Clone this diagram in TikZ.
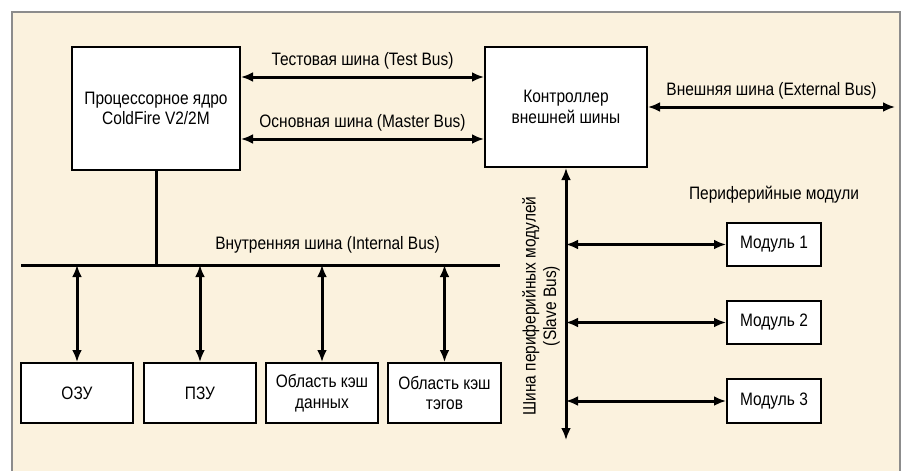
\documentclass[tikz,border=0pt]{standalone}
\usepackage{fontspec}
\setmainfont{Liberation Sans}[FakeStretch=0.86]
\usetikzlibrary{arrows.meta, positioning}

\definecolor{panelbg}{RGB}{251,242,222}
\definecolor{panelframe}{RGB}{140,140,140}

\begin{document}
\begin{tikzpicture}[
        x=0.5pt, y=-0.5pt,
        block/.style={rectangle, draw=black, line width=1pt, fill=white, align=center, font=\fontsize{9}{10.2}\selectfont},
        bus/.style={line width=1.5pt, draw=black},
        busarrow/.style={line width=1.5pt, draw=black, {Latex[length=6pt,width=5pt]}-{Latex[length=6pt,width=5pt]}},
        buslabel/.style={font=\fontsize{9}{10.2}\selectfont, text=black, align=center}
    ]
        % Panel
        \useasboundingbox (0,0) rectangle (905,471);
        \fill[panelbg] (12,12) rectangle (900,471);
        \draw[panelframe, line width=1.2pt] (12,471) -- (12,12) -- (900,12) -- (900,471);

        % Core and bus controller
        \node[block, minimum width=84pt, minimum height=61.5pt] (cpu) at (156,108.5) {Процессорное ядро\\ColdFire V2/2M};
        \node[block, minimum width=81pt, minimum height=60pt] (ctrl) at (566,107) {Контроллер\\внешней шины};

        % Memory blocks (bottom row)
        \node[block, minimum width=56pt, minimum height=30pt] (ozu) at (77,393) {ОЗУ};
        \node[block, minimum width=56pt, minimum height=30pt] (pzu) at (200,393) {ПЗУ};
        \node[block, minimum width=56pt, minimum height=30pt] (dcache) at (322,393) {Область кэш\\данных};
        \node[block, minimum width=56.5pt, minimum height=30pt] (tcache) at (444.5,393) {Область кэш\\тэгов};

        % Peripheral modules
        \node[buslabel] (periph) at (774,195) {Периферийные модули};
        \node[block, minimum width=47pt, minimum height=21.5pt] (mod1) at (774,244.5) {Модуль 1};
        \node[block, minimum width=47pt, minimum height=21.5pt] (mod2) at (774,322.5) {Модуль 2};
        \node[block, minimum width=47pt, minimum height=22pt] (mod3) at (774,401) {Модуль 3};

        % Bus levels
        \coordinate (testbus) at (0,77);
        \coordinate (masterbus) at (0,139);
        \coordinate (extbus) at (895,107);
        \coordinate (ibus west) at (21,265);
        \coordinate (ibus east) at (500,265);
        \coordinate (sbus end) at (0,440);

        % Test and master buses
        \draw[busarrow] (cpu.east |- testbus) -- (ctrl.west |- testbus) node[midway, above, buslabel] {Тестовая шина (Test Bus)};
        \draw[busarrow] (cpu.east |- masterbus) -- (ctrl.west |- masterbus) node[midway, above, buslabel] {Основная шина (Master Bus)};

        % External bus
        \draw[busarrow] (ctrl.east |- extbus) -- (extbus) node[midway, above, buslabel] {Внешняя шина (External Bus)};

        % Internal bus
        \draw[bus] (ibus west) -- (ibus east) node[pos=0.64, above=2pt, buslabel] {Внутренняя шина (Internal Bus)};
        \draw[bus] (cpu.south) -- (cpu.south |- ibus west);
        \draw[busarrow] (ibus west -| ozu.north) -- (ozu.north);
        \draw[busarrow] (ibus west -| pzu.north) -- (pzu.north);
        \draw[busarrow] (ibus west -| dcache.north) -- (dcache.north);
        \draw[busarrow] (ibus west -| tcache.north) -- (tcache.north);

        % Slave bus
        \draw[busarrow] (ctrl.south) -- (ctrl.south |- sbus end);
        \node[buslabel, rotate=90] (sbuslabel) at (541,306) {Шина периферийных модулей\\(Slave Bus)};
        \draw[busarrow] (mod1.west -| ctrl.south) -- (mod1.west);
        \draw[busarrow] (mod2.west -| ctrl.south) -- (mod2.west);
        \draw[busarrow] (mod3.west -| ctrl.south) -- (mod3.west);

    \end{tikzpicture}
\end{document}
